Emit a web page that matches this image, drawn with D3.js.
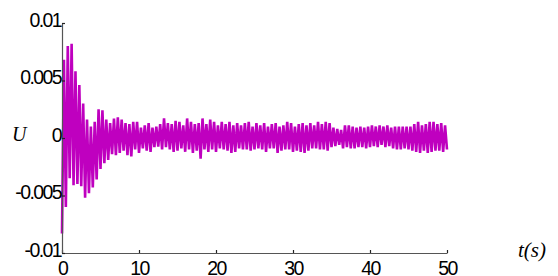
<!DOCTYPE html>
<html>
<head>
<meta charset="utf-8">
<script src="https://cdn.jsdelivr.net/npm/d3@7"></script>
<style>
  html, body { margin: 0; padding: 0; background: #fff; }
  svg { display: block; }
</style>
</head>
<body>
<svg id="chart" width="558" height="276"></svg>
<script>
const dt = 0.25;
const signalU = [
  -0.0083, 0.0068, -0.0060, 0.0080,
  -0.0035, 0.0082, -0.0041, 0.0058,
  -0.0040, 0.0046, -0.0042, 0.0030,
  -0.0052, 0.0016, -0.0048, 0.0010,
  -0.0043, 0.0014, -0.0036, 0.0025,
  -0.0027, 0.0024, -0.0022, 0.0016,
  -0.0019, 0.0013, -0.0014, 0.0017,
  -0.0015, 0.0018, -0.0013, 0.0016,
  -0.0011, 0.0013, -0.0015, 0.0012,
  -0.0016, 0.0014, -0.0010, 0.0014,
  -0.0013, 0.0009, -0.0009, 0.0011,
  -0.0011, 0.0013, -0.0012, 0.0009,
  -0.0008, 0.0010, -0.00075, 0.0012,
  -0.0010, 0.0017, -0.0008, 0.0013,
  -0.0010, 0.0012, -0.0012, 0.0015,
  -0.0011, 0.0014, -0.0009, 0.0011,
  -0.0012, 0.0017, -0.0010, 0.0014,
  -0.0013, 0.0012, -0.0011, 0.0013,
  -0.0018, 0.0017, -0.0010, 0.0012,
  -0.0012, 0.0016, -0.0010, 0.0014,
  -0.0012, 0.0011, -0.0009, 0.0014,
  -0.0010, 0.0012, -0.0011, 0.0014,
  -0.0013, 0.0011, -0.0012, 0.0013,
  -0.0009, 0.0011, -0.0010, 0.0013,
  -0.0010, 0.0014, -0.0011, 0.0010,
  -0.0010, 0.0013, -0.0009, 0.0011,
  -0.0010, 0.0013, -0.0012, 0.0010,
  -0.0009, 0.0012, -0.0009, 0.0013,
  -0.0013, 0.0010, -0.0011, 0.0011,
  -0.0010, 0.0014, -0.0010, 0.0013,
  -0.0012, 0.0010, -0.0011, 0.0012,
  -0.0012, 0.0013, -0.0013, 0.0011,
  -0.0011, 0.0013, -0.0009, 0.0011,
  -0.0009, 0.0014, -0.0010, 0.0012,
  -0.0010, 0.0014, -0.0011, 0.0013,
  -0.0008, 0.0009, -0.0007, 0.0008,
  -0.0006, 0.0007, -0.0009, 0.0011,
  -0.0008, 0.0011, -0.0009, 0.0010,
  -0.0009, 0.0009, -0.0008, 0.0010,
  -0.0008, 0.0009, -0.0009, 0.0010,
  -0.0008, 0.0011, -0.0007, 0.0010,
  -0.0008, 0.0011, -0.0006, 0.0010,
  -0.0008, 0.0011, -0.0007, 0.0009,
  -0.0009, 0.0010, -0.0010, 0.0010,
  -0.0010, 0.0010, -0.0009, 0.0010,
  -0.0010, 0.0010, -0.0011, 0.0012,
  -0.0012, 0.0014, -0.0013, 0.0011,
  -0.0011, 0.0012, -0.0013, 0.0014,
  -0.0012, 0.0014, -0.0011, 0.0012,
  -0.0011, 0.0013, -0.0012, 0.0011,
  -0.0010
];
const xTicks = [0, 10, 20, 30, 40, 50];
const xTickLabels = ["0", "10", "20", "30", "40", "50"];
const yTicks = [0.01, 0.005, 0, -0.005, -0.01];
const yTickLabels = ["0.01", "0.005", "0", "-0.005", "-0.01"];
const xDomain = [0, 50];
const yDomain = [-0.01, 0.01];
const yAxisTitle = "U";
const xAxisTitle = "t(s)";

const svg = d3.select("#chart");
const x = d3.scaleLinear().domain(xDomain).range([62, 447]);
const y = d3.scaleLinear().domain(yDomain).range([253, 23]);

const data = signalU.map((v, i) => ({ t: i * dt, v }));

// signal
svg.append("path")
  .datum(data)
  .attr("fill", "none")
  .attr("stroke", "#BF00BF")
  .attr("stroke-width", 2.6)
  .attr("stroke-linejoin", "bevel")
  .attr("d", d3.line().x(d => x(d.t)).y(d => y(d.v)));

// axes
const axisColor = "#555";
const xAxis = d3.axisBottom(x).tickValues(xTicks).tickSize(-3).tickSizeOuter(0)
  .tickFormat((d, i) => xTickLabels[i]);
const gx = svg.append("g").attr("transform", `translate(0,${y(-0.01)})`).call(xAxis);
gx.select(".domain").attr("stroke", axisColor).attr("stroke-width", 1.2);
gx.selectAll(".tick line").attr("stroke", "#222").attr("stroke-width", 1.2);
gx.selectAll(".tick text")
  .attr("y", 8).attr("dy", "0.72em")
  .attr("fill", "#000")
  .style("font-family", "'Liberation Sans', Arial, sans-serif")
  .style("font-size", "19.5px")
  .style("letter-spacing", "-1.6px");

const yAxis = d3.axisLeft(y).tickValues(yTicks).tickSize(-3).tickSizeOuter(0)
  .tickFormat((d, i) => yTickLabels[i]);
const gy = svg.append("g").attr("transform", `translate(${x(0)},0)`).call(yAxis);
gy.select(".domain").attr("stroke", axisColor).attr("stroke-width", 1.2);
gy.selectAll(".tick line").attr("stroke", "#222").attr("stroke-width", 1.2);
gy.selectAll(".tick text")
  .attr("x", -1).attr("dy", "0.17em")
  .attr("fill", "#000")
  .style("font-family", "'Liberation Sans', Arial, sans-serif")
  .style("font-size", "19.5px")
  .style("letter-spacing", "-1.6px");

// axis titles
svg.append("text")
  .attr("x", 12).attr("y", 141)
  .style("font-family", "'Liberation Serif', 'Times New Roman', serif")
  .style("font-style", "italic")
  .style("font-size", "20px")
  .text(yAxisTitle);

svg.append("text")
  .attr("x", 518).attr("y", 257)
  .style("font-family", "'Liberation Serif', 'Times New Roman', serif")
  .style("font-style", "italic")
  .style("font-size", "21px")
  .text(xAxisTitle);
</script>
</body>
</html>
